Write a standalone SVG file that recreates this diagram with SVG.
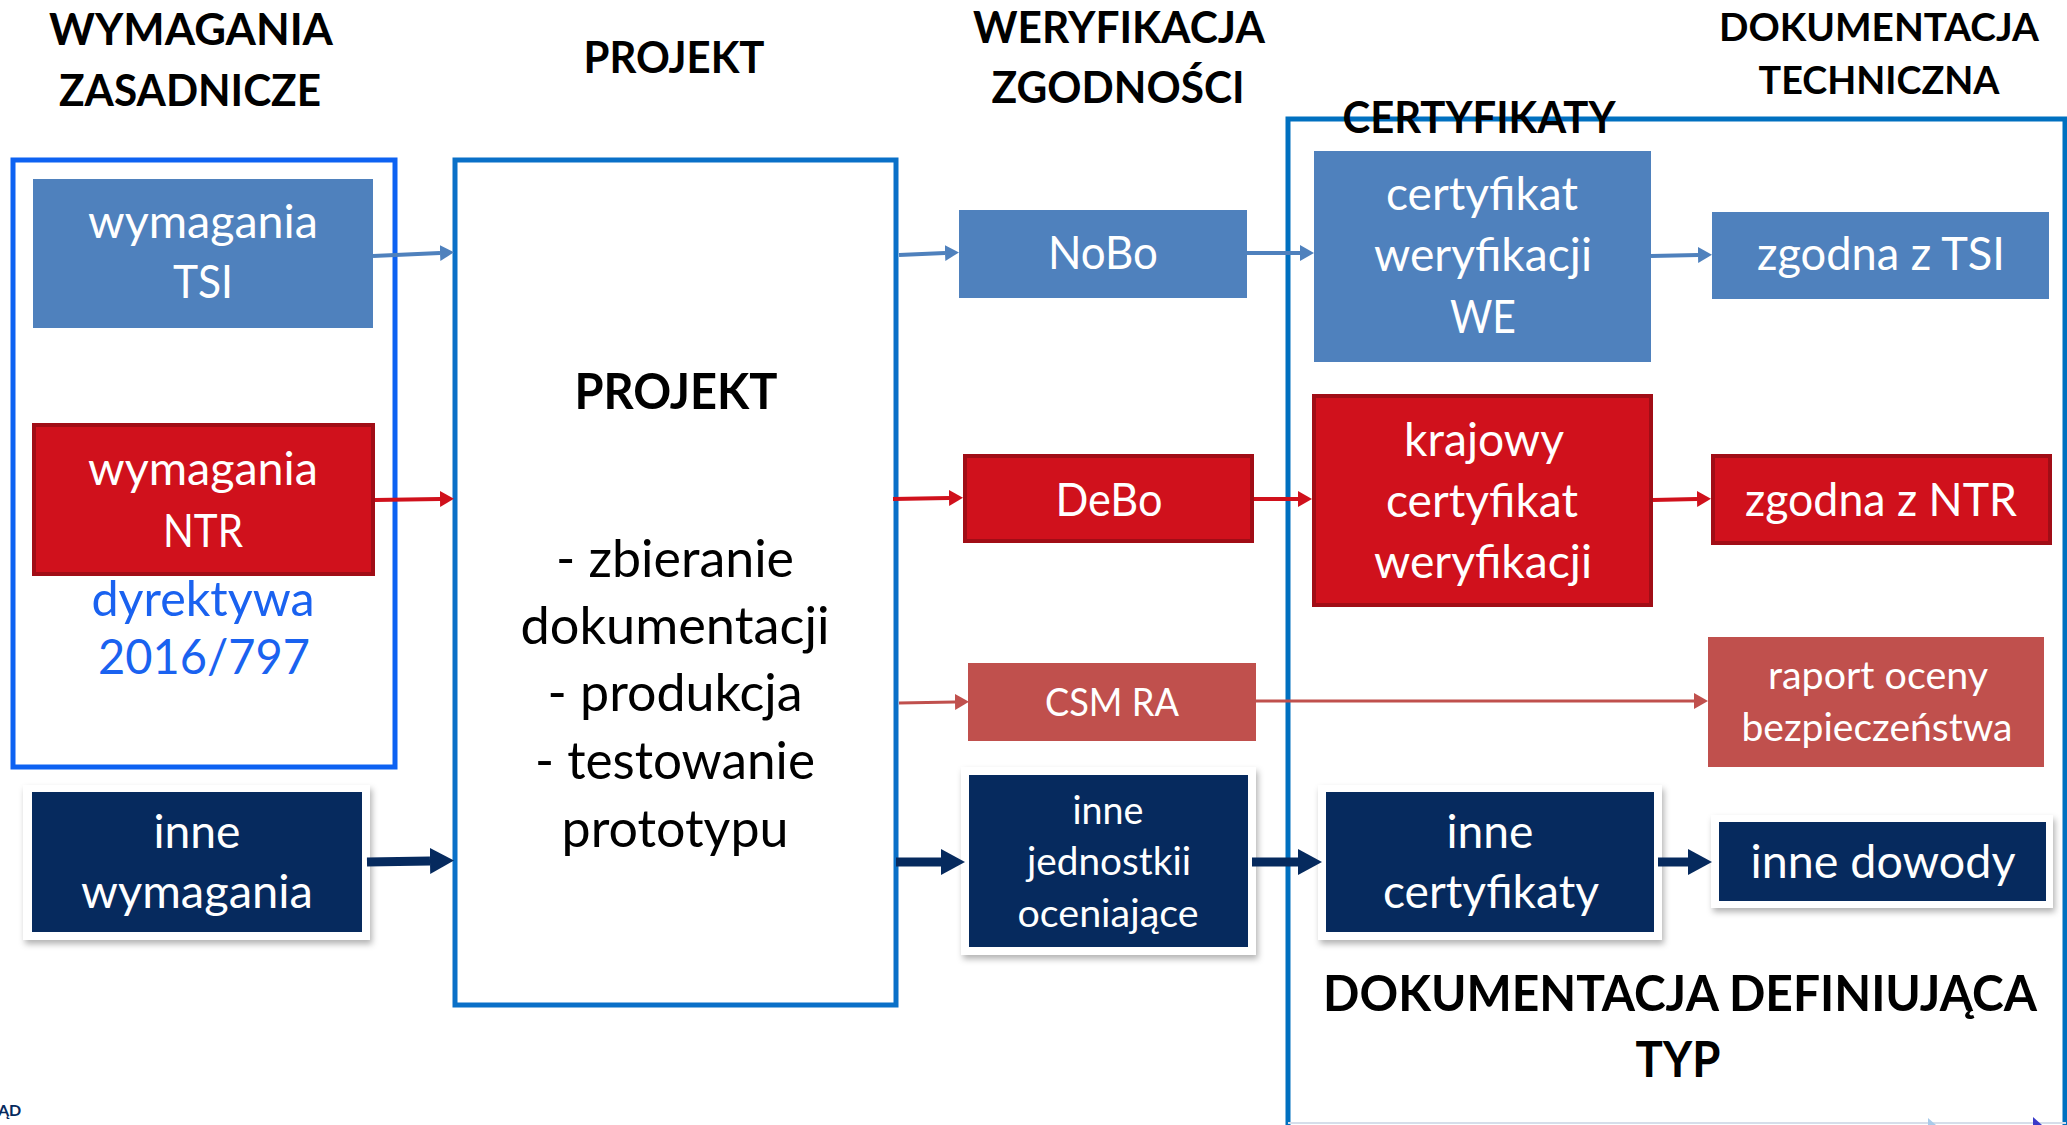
<svg xmlns="http://www.w3.org/2000/svg" width="2067" height="1125" viewBox="0 0 2067 1125">
<defs>
<style>
text { font-family: Lato, "Open Sans", "Liberation Sans", sans-serif; text-anchor: middle; }
.h { font-weight: 700; font-size: 43px; fill: #000; }
.h2 { font-weight: 700; font-size: 39px; fill: #000; }
.hb { font-weight: 700; font-size: 50px; fill: #000; }
.w { fill: #fff; font-size: 46px; }
.ws { fill: #fff; font-size: 39px; }
.pb { fill: #000; font-size: 52px; }
.dir { fill: #1A62F0; font-size: 48px; }
.blue { fill: #4F81BD; }
.red { fill: #D0111C; stroke: #A10D16; stroke-width: 4; }
.csm { fill: #C0504D; }
.navy { fill: #062A5E; }
.frame { fill: #fff; filter: url(#sh); }
.cont { fill: none; stroke-width: 5; }
.ab { stroke: #4F81BD; stroke-width: 4; fill: none; marker-end: url(#mb); }
.ar { stroke: #D0111C; stroke-width: 4; fill: none; marker-end: url(#mr); }
.ac { stroke: #C0504D; stroke-width: 3; fill: none; marker-end: url(#mc); }
.an { stroke: #062A5E; stroke-width: 9; fill: none; marker-end: url(#mn); }
</style>
<filter id="sh" x="-10%" y="-10%" width="125%" height="130%">
<feDropShadow dx="2" dy="4" stdDeviation="3" flood-color="#000" flood-opacity="0.3"/>
</filter>
<marker id="mb" markerUnits="userSpaceOnUse" markerWidth="14" markerHeight="16" refX="0" refY="8" orient="auto"><path d="M0,0 L14,8 L0,16 z" fill="#4F81BD"/></marker>
<marker id="mr" markerUnits="userSpaceOnUse" markerWidth="14" markerHeight="16" refX="0" refY="8" orient="auto"><path d="M0,0 L14,8 L0,16 z" fill="#D0111C"/></marker>
<marker id="mc" markerUnits="userSpaceOnUse" markerWidth="14" markerHeight="16" refX="0" refY="8" orient="auto"><path d="M0,0 L14,8 L0,16 z" fill="#C0504D"/></marker>
<marker id="mn" markerUnits="userSpaceOnUse" markerWidth="24" markerHeight="26" refX="0" refY="13" orient="auto"><path d="M0,0 L24,13 L0,26 z" fill="#062A5E"/></marker>
</defs>
<rect width="2067" height="1125" fill="#fff"/>

<g id="headers">
<text class="h" x="191" y="45" textLength="284" lengthAdjust="spacingAndGlyphs">WYMAGANIA</text>
<text class="h" x="190" y="106" textLength="262" lengthAdjust="spacingAndGlyphs">ZASADNICZE</text>
<text class="h" x="674" y="73" textLength="181" lengthAdjust="spacingAndGlyphs">PROJEKT</text>
<text class="h" x="1119" y="43" textLength="292" lengthAdjust="spacingAndGlyphs">WERYFIKACJA</text>
<text class="h" x="1118" y="103" textLength="253" lengthAdjust="spacingAndGlyphs">ZGODNOŚCI</text>
<text class="h2" x="1879" y="41" textLength="320" lengthAdjust="spacingAndGlyphs">DOKUMENTACJA</text>
<text class="h2" x="1879" y="94" textLength="241" lengthAdjust="spacingAndGlyphs">TECHNICZNA</text>
</g>

<g id="container-wymagania">
<rect class="cont" x="13" y="160" width="382" height="607" stroke="#0D62F2"/>
</g>

<g id="container-certyfikaty">
<path class="cont" d="M1288,1125 L1288,119 L2065,119 L2065,1125" stroke="#0070C0"/>
<line x1="1288" y1="1123" x2="2066" y2="1123" stroke="#D6DEEA" stroke-width="2"/>
<text class="h" x="1479" y="133" textLength="273" lengthAdjust="spacingAndGlyphs">CERTYFIKATY</text>
<text class="hb" x="1680" y="1011" textLength="714" lengthAdjust="spacingAndGlyphs">DOKUMENTACJA DEFINIUJĄCA</text>
<text class="hb" x="1678" y="1077" textLength="85" lengthAdjust="spacingAndGlyphs">TYP</text>
<polygon points="1928,1118 1936,1125 1928,1125" fill="#A9CBEA"/>
<polygon points="2033,1117 2042,1125 2033,1125" fill="#3A3AC8"/>
</g>

<g id="node-tsi">
<rect class="blue" x="33" y="179" width="340" height="149"/>
<text class="w" x="203" y="238" textLength="230" lengthAdjust="spacingAndGlyphs">wymagania</text>
<text class="w" x="203" y="298" textLength="60" lengthAdjust="spacingAndGlyphs">TSI</text>
</g>

<g id="node-ntr">
<rect class="red" x="34" y="425" width="339" height="149"/>
<text class="w" x="203" y="485" textLength="230" lengthAdjust="spacingAndGlyphs">wymagania</text>
<text class="w" x="203" y="547" textLength="80" lengthAdjust="spacingAndGlyphs">NTR</text>
</g>

<g id="node-dyrektywa">
<text class="dir" x="203" y="616" textLength="223" lengthAdjust="spacingAndGlyphs">dyrektywa</text>
<text class="dir" x="204" y="674" textLength="212" lengthAdjust="spacingAndGlyphs">2016/797</text>
</g>

<g id="node-inne-wymagania">
<rect class="frame" x="23" y="785" width="347" height="155"/>
<rect class="navy" x="32" y="792" width="330" height="140"/>
<text class="w" x="197" y="848" textLength="87" lengthAdjust="spacingAndGlyphs">inne</text>
<text class="w" x="197" y="908" textLength="232" lengthAdjust="spacingAndGlyphs">wymagania</text>
</g>

<g id="node-projekt">
<rect class="cont" x="455" y="160" width="441" height="845" stroke="#0A70C8"/>
<text class="hb" x="676" y="409" textLength="203" lengthAdjust="spacingAndGlyphs">PROJEKT</text>
<text class="pb" x="675" y="577" textLength="238" lengthAdjust="spacingAndGlyphs">- zbieranie</text>
<text class="pb" x="675" y="644" textLength="309" lengthAdjust="spacingAndGlyphs">dokumentacji</text>
<text class="pb" x="675" y="711" textLength="255" lengthAdjust="spacingAndGlyphs">- produkcja</text>
<text class="pb" x="675" y="779" textLength="280" lengthAdjust="spacingAndGlyphs">- testowanie</text>
<text class="pb" x="675" y="847" textLength="227" lengthAdjust="spacingAndGlyphs">prototypu</text>
</g>

<g id="node-nobo">
<rect class="blue" x="959" y="210" width="288" height="88"/>
<text class="w" x="1103" y="269" textLength="110" lengthAdjust="spacingAndGlyphs">NoBo</text>
</g>

<g id="node-debo">
<rect class="red" x="965" y="456" width="287" height="85"/>
<text class="w" x="1109" y="516" textLength="107" lengthAdjust="spacingAndGlyphs">DeBo</text>
</g>

<g id="node-csm">
<rect class="csm" x="968" y="663" width="288" height="78"/>
<text class="ws" x="1112" y="716" textLength="134" lengthAdjust="spacingAndGlyphs">CSM RA</text>
</g>

<g id="node-inne-jednostki">
<rect class="frame" x="961" y="767" width="295" height="188"/>
<rect class="navy" x="969" y="775" width="279" height="172"/>
<text class="ws" x="1108" y="824" textLength="71" lengthAdjust="spacingAndGlyphs">inne</text>
<text class="ws" x="1109" y="875" textLength="164" lengthAdjust="spacingAndGlyphs">jednostkii</text>
<text class="ws" x="1108" y="927" textLength="181" lengthAdjust="spacingAndGlyphs">oceniające</text>
</g>

<g id="node-cert-we">
<rect class="blue" x="1314" y="151" width="337" height="211"/>
<text class="w" x="1482" y="210" textLength="192" lengthAdjust="spacingAndGlyphs">certyfikat</text>
<text class="w" x="1483" y="271" textLength="218" lengthAdjust="spacingAndGlyphs">weryfikacji</text>
<text class="w" x="1483" y="333" textLength="66" lengthAdjust="spacingAndGlyphs">WE</text>
</g>

<g id="node-krajowy">
<rect class="red" x="1314" y="396" width="337" height="209"/>
<text class="w" x="1484" y="456" textLength="160" lengthAdjust="spacingAndGlyphs">krajowy</text>
<text class="w" x="1482" y="517" textLength="192" lengthAdjust="spacingAndGlyphs">certyfikat</text>
<text class="w" x="1483" y="578" textLength="218" lengthAdjust="spacingAndGlyphs">weryfikacji</text>
</g>

<g id="node-inne-certyfikaty">
<rect class="frame" x="1318" y="785" width="344" height="155"/>
<rect class="navy" x="1326" y="792" width="328" height="140"/>
<text class="w" x="1490" y="848" textLength="87" lengthAdjust="spacingAndGlyphs">inne</text>
<text class="w" x="1491" y="908" textLength="216" lengthAdjust="spacingAndGlyphs">certyfikaty</text>
</g>

<g id="node-zgodna-tsi">
<rect class="blue" x="1712" y="212" width="337" height="87"/>
<text class="w" x="1881" y="270" textLength="248" lengthAdjust="spacingAndGlyphs">zgodna z TSI</text>
</g>

<g id="node-zgodna-ntr">
<rect class="red" x="1713" y="456" width="337" height="87"/>
<text class="w" x="1881" y="516" textLength="272" lengthAdjust="spacingAndGlyphs">zgodna z NTR</text>
</g>

<g id="node-raport">
<rect class="csm" x="1708" y="637" width="336" height="130"/>
<text class="ws" x="1878" y="689" textLength="220" lengthAdjust="spacingAndGlyphs">raport oceny</text>
<text class="ws" x="1877" y="741" textLength="271" lengthAdjust="spacingAndGlyphs">bezpieczeństwa</text>
</g>

<g id="node-inne-dowody">
<rect class="frame" x="1711" y="815" width="342" height="93"/>
<rect class="navy" x="1719" y="822" width="327" height="79"/>
<text class="w" x="1883" y="878" textLength="265" lengthAdjust="spacingAndGlyphs">inne dowody</text>
</g>

<g id="connectors">
<path class="ab" d="M373,256 L440,253"/>
<path class="ab" d="M899,255 L945,253"/>
<path class="ab" d="M1247,253 L1300,253"/>
<path class="ab" d="M1651,256 L1698,255"/>
<path class="ar" d="M375,500 L440,499"/>
<path class="ar" d="M893,499 L949,498"/>
<path class="ar" d="M1254,499 L1298,499"/>
<path class="ar" d="M1653,500 L1697,499"/>
<path class="ac" d="M899,703 L955,702"/>
<path class="ac" d="M1256,701 L1694,701"/>
<path class="an" d="M367,862 L430,861"/>
<path class="an" d="M896,862 L941,862"/>
<path class="an" d="M1252,862 L1298,862"/>
<path class="an" d="M1658,862 L1688,862"/>
</g>

<g id="footer">
<text x="-2" y="1116" style="font-size:16px;font-weight:700;fill:#062A5E;text-anchor:start">ĄD</text>
</g>
</svg>
